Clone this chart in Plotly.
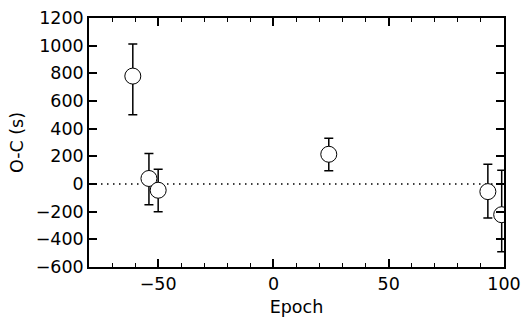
import plotly.graph_objects as go

epoch = [-61, -54, -50, 24, 93, 99]
oc = [780, 40, -45, 215, -55, -222]
err_plus = [232, 180, 152, 116, 198, 322]
err_minus = [280, 190, 155, 120, 190, 268]

x_ticks = [-50, 0, 50, 100]
y_ticks = [-600, -400, -200, 0, 200, 400, 600, 800, 1000, 1200]

font = dict(family="DejaVu Sans", size=17.5, color="black")

fig = go.Figure()
fig.add_trace(go.Scatter(
    x=epoch, y=oc, mode="markers",
    marker=dict(symbol="circle", size=16, color="white",
                line=dict(color="black", width=1)),
    error_y=dict(type="data", symmetric=False, array=err_plus,
                 arrayminus=err_minus, color="black", thickness=1.5, width=4.5),
    showlegend=False,
))
fig.add_hline(y=0, line=dict(color="black", width=1.3, dash="1.5px,4.5px"), layer="below")

axis_common = dict(
    showgrid=False, zeroline=False, showline=True, linecolor="black",
    linewidth=1.5, mirror="ticks", ticks="inside", tickcolor="black",
    tickwidth=1.5, ticklen=8, tickfont=font, automargin=False,
)
fig.update_xaxes(range=[-80, 100], tickvals=x_ticks,
                 ticktext=["\u221250", "0", "50", "100"],
                 title=dict(text="Epoch", font=font, standoff=8),
                 minor=dict(dtick=10, tick0=0, ticks="inside", ticklen=4,
                            tickcolor="black", tickwidth=1.2),
                 **axis_common)
fig.update_yaxes(range=[-600, 1200], tickvals=y_ticks,
                 ticktext=[("\u2212" + str(-v)) if v < 0 else str(v) for v in y_ticks],
                 title=dict(text="O-C (s)", font=font, standoff=8),
                 **axis_common)
fig.update_layout(
    width=524, height=320,
    margin=dict(l=89, r=20, t=18, b=53, autoexpand=False),
    plot_bgcolor="white", paper_bgcolor="white",
    font=font,
)
fig.write_html("out.html")
